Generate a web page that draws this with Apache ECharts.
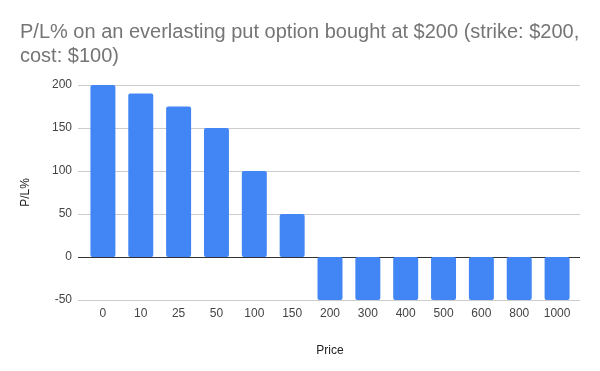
<!DOCTYPE html>
<html><head><meta charset="utf-8">
<script src="https://cdn.jsdelivr.net/npm/echarts@6/dist/echarts.min.js"></script>
<style>html,body{margin:0;padding:0;background:#fff}#c{width:600px;height:371px}</style>
</head><body><div id="c"></div>
<script>
const categories = ['0','10','25','50','100','150','200','300','400','500','600','800','1000'];
const plValues = [200,190,175,150,100,50,-50,-50,-50,-50,-50,-50,-50];
const yTicks = {min:-50, max:200, interval:50};

const font = 'Liberation Sans, Arial, sans-serif';
const chart = echarts.init(document.getElementById('c'), null, {renderer:'canvas'});
chart.setOption({
  animation:false,
  title:{
    text:'P/L% on an everlasting put option bought at $200 (strike: $200,\ncost: $100)',
    left:15, top:15,
    textStyle:{fontFamily:font, fontSize:20, fontWeight:'normal', color:'#757575', lineHeight:24}
  },
  grid:[
    {left:84, right:24, top:85, bottom:71},
    {left:78, right:20, top:85, bottom:71}
  ],
  xAxis:[{
    type:'category', data:categories, gridIndex:0,
    name:'Price', nameLocation:'middle', nameGap:45,
    nameTextStyle:{fontFamily:font, fontSize:12, color:'#222'},
    axisLine:{show:false}, axisTick:{show:false},
    axisLabel:{fontFamily:font, fontSize:12, color:'#444', margin:8}
  },{
    type:'value', gridIndex:1, show:false, min:0, max:1
  }],
  yAxis:[{
    type:'value', gridIndex:0, min:yTicks.min, max:yTicks.max, interval:yTicks.interval,
    name:'P/L%', nameLocation:'middle', nameGap:52,
    nameTextStyle:{fontFamily:font, fontSize:12, color:'#222'},
    axisLine:{show:false}, axisTick:{show:false},
    axisLabel:{fontFamily:font, fontSize:12, color:'#444', margin:12},
    splitLine:{show:false}
  },{
    type:'value', gridIndex:1, min:yTicks.min, max:yTicks.max, interval:yTicks.interval,
    axisLine:{show:false}, axisTick:{show:false}, axisLabel:{show:false},
    splitLine:{lineStyle:{color:['#cccccc','#333333','#cccccc','#cccccc','#cccccc','#cccccc'], width:1}},
    z:0
  }],
  series:[{
    type:'bar', data:plValues, xAxisIndex:0, yAxisIndex:0, barCategoryGap:'34%',
    itemStyle:{color:'#4285F4', borderRadius:2}, z:5
  }]
});
</script></body></html>
